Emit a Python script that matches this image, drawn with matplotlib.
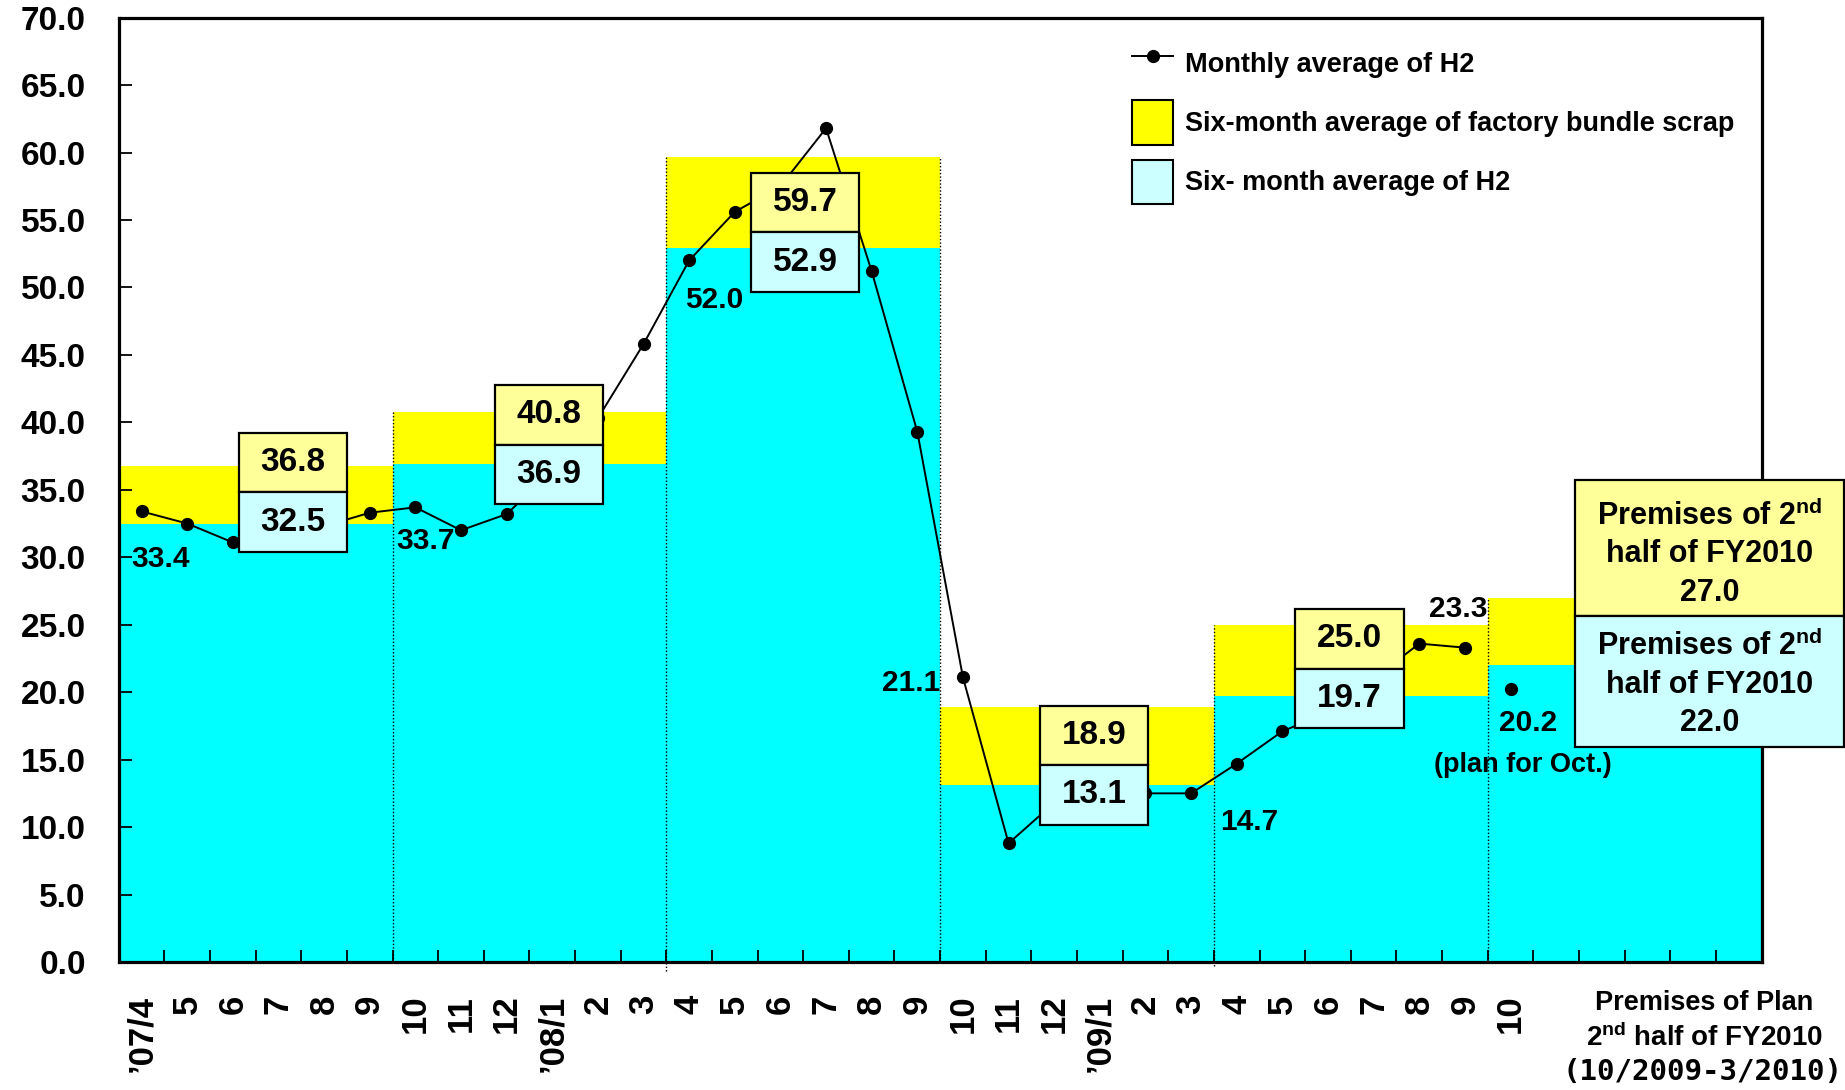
import matplotlib
matplotlib.use("Agg")
import matplotlib.pyplot as plt
from matplotlib.patches import Rectangle, Patch
from matplotlib.lines import Line2D
from matplotlib.ticker import FormatStrFormatter
import numpy as np

# ---------------- data ----------------
month_labels = ["\u201907/4", "5", "6", "7", "8", "9", "10", "11", "12",
                "\u201908/1", "2", "3", "4", "5", "6", "7", "8", "9",
                "10", "11", "12", "\u201909/1", "2", "3", "4", "5", "6",
                "7", "8", "9", "10", "", "", "", "", ""]
monthly_h2 = [33.4, 32.5, 31.1, 32.4, 32.3, 33.3, 33.7, 32.0, 33.2, 36.4,
              40.3, 45.8, 52.0, 55.6, 57.5, 61.8, 51.2, 39.3, 21.1, 8.8,
              11.8, 11.9, 12.5, 12.5, 14.7, 17.1, 18.5, 21.0, 23.6, 23.3]
plan_oct = 20.2
scrap_avg = [36.8, 40.8, 59.7, 18.9, 25.0, 27.0]
h2_avg = [32.5, 36.9, 52.9, 13.1, 19.7, 22.0]
labeled_months = [0, 6, 12, 18, 24, 29]
legend_labels = ["Monthly average of H2",
                 "Six-month average of factory bundle scrap",
                 "Six- month average of H2"]

# ---------------- style ----------------
W, H = 1845, 1090
SANS = ["Liberation Sans", "DejaVu Sans"]
plt.rcParams["font.family"] = SANS
plt.rcParams["font.weight"] = "bold"
plt.rcParams["mathtext.fontset"] = "custom"
plt.rcParams["mathtext.rm"] = "Liberation Sans:bold"
plt.rcParams["mathtext.it"] = "Liberation Sans:bold"
plt.rcParams["mathtext.bf"] = "Liberation Sans:bold"

YEL, CYA = "#FFFF00", "#00FFFF"
LYEL, LCYA = "#FFFF99", "#CCFFFF"

fig = plt.figure(figsize=(W / 100, H / 100), dpi=100)
ax = fig.add_axes([118.75 / W, 1 - 962 / H, (1761.5 - 118.75) / W, (962 - 17.6) / H])

# six-month bars (overlaid)
centers = [6 * k + 2.5 for k in range(len(scrap_avg))]
ax.bar(centers, scrap_avg, width=6, color=YEL, linewidth=0, zorder=1)
ax.bar(centers, h2_avg, width=6, color=CYA, linewidth=0, zorder=1.5)

# dotted separators between half-years
sep_bottoms = [0, -0.65, 0, -0.3, 0]
for k in range(len(scrap_avg) - 1):
    ax.vlines(6 * k + 5.5, sep_bottoms[k], max(scrap_avg[k], scrap_avg[k + 1]),
              colors="k", linestyles=(0, (1, 1.5)), linewidth=1.0, zorder=2,
              clip_on=False)

# monthly line
xm = np.arange(len(monthly_h2))
ax.plot(xm, monthly_h2, color="k", lw=1.4, marker="o", ms=8.5, zorder=3)
ax.plot([len(monthly_h2)], [plan_oct], linestyle="none", color="k",
        marker="o", ms=8.5, zorder=3)

# data labels
lab_fs = 21.5
label_pos = [(-0.22, 29.9, "left"), (5.58, 31.17, "left"), (11.9, 49.1, "left"),
             (17.5, 20.7, "right"), (23.63, 10.36, "left"), (28.22, 26.2, "left")]
for i, (lx, ly, ha) in zip(labeled_months, label_pos):
    ax.text(lx, ly, f"{monthly_h2[i]:.1f}", ha=ha, va="center",
            fontsize=lab_fs, fontweight="bold", zorder=6)
ax.text(29.75, 17.74, f"{plan_oct:.1f}", ha="left", va="center",
        fontsize=lab_fs, fontweight="bold", zorder=6)
ax.text(28.32, 14.6, "(plan for Oct.)", ha="left", va="center",
        fontsize=19.5, fontweight="bold", zorder=6)

# value boxes
box_left = [2.13, 7.74, 13.35, 19.68, 25.28]
box_bottom = [30.4, 33.92, 49.67, 10.17, 17.32]
bw, bh = 2.38, 4.42
for k in range(5):
    x0, y0 = box_left[k], box_bottom[k]
    ax.add_patch(Rectangle((x0, y0 + bh), bw, bh, fc=LYEL, ec="k", lw=1.6,
                           zorder=4, clip_on=False))
    ax.add_patch(Rectangle((x0, y0), bw, bh, fc=LCYA, ec="k", lw=1.6,
                           zorder=4, clip_on=False))
    ax.text(x0 + bw / 2, y0 + 1.5 * bh, f"{scrap_avg[k]:.1f}", ha="center",
            va="center", fontsize=24, fontweight="bold", zorder=5)
    ax.text(x0 + bw / 2, y0 + 0.5 * bh, f"{h2_avg[k]:.1f}", ha="center",
            va="center", fontsize=24, fontweight="bold", zorder=5)

# premises box (extends beyond the axes)
px0, pw = 31.42, 5.88
p_bot, p_mid, p_top = 15.9, 25.61, 35.74
ax.add_patch(Rectangle((px0, p_mid), pw, p_top - p_mid, fc=LYEL, ec="k",
                       lw=1.6, zorder=4, clip_on=False))
ax.add_patch(Rectangle((px0, p_bot), pw, p_mid - p_bot, fc=LCYA, ec="k",
                       lw=1.6, zorder=4, clip_on=False))
for val, yc in [(scrap_avg[5], (p_mid + p_top) / 2 - 0.45),
                (h2_avg[5], (p_bot + p_mid) / 2 - 0.2)]:
    lines = ["Premises of 2$^{\\mathrm{nd}}$", "half of FY2010", f"{val:.1f}"]
    for j, t in enumerate(lines):
        ax.text(px0 + pw / 2, yc + (1 - j) * 2.85, t, ha="center", va="center",
                fontsize=22, fontweight="bold", zorder=5, clip_on=False)

# axis formatting
ax.set_xlim(-0.5, 35.5)
ax.set_ylim(0, 70)
ax.set_yticks(np.arange(0, 70.1, 5))
ax.yaxis.set_major_formatter(FormatStrFormatter("%.1f"))
ax.set_xticks(np.arange(len(month_labels)))
ax.set_xticklabels(month_labels, rotation=90)
ax.set_xticks(np.arange(0.5, 35.5, 1), minor=True)
ax.tick_params(axis="x", which="major", length=0, pad=23.5, labelsize=25)
ax.tick_params(axis="x", which="minor", direction="in", length=8.6, width=1.3)
ax.tick_params(axis="y", direction="in", length=9.6, width=1.3, pad=23.8,
               labelsize=24)
for lab in ax.get_xticklabels() + ax.get_yticklabels():
    lab.set_fontweight("bold")
for sp in ax.spines.values():
    sp.set_linewidth(2.3)

# legend
handles = [Line2D([], [], color="k", lw=1.4, marker="o", ms=8.5),
           Patch(facecolor=YEL, edgecolor="k", linewidth=1.5),
           Patch(facecolor=LCYA, edgecolor="k", linewidth=1.5)]
leg = ax.legend(handles, legend_labels, loc="upper left",
                bbox_to_anchor=(1132 / W, 1 - 41 / H),
                bbox_transform=fig.transFigure, frameon=False,
                prop={"weight": "bold", "size": 19.5},
                handlelength=1.52, handleheight=2.15, handletextpad=0.42,
                labelspacing=0.55, borderpad=0, borderaxespad=0)
leg.set_zorder(6)

# bottom-right category caption
cap_lines = ["Premises of Plan", "2$^{\\mathrm{nd}}$ half of FY2010"]
cap_sizes = [19.5, 20]
for j, t in enumerate(cap_lines):
    fig.text(1704 / W, 1 - (1003 + 35 * j) / H, t, ha="center", va="center",
             fontsize=cap_sizes[j], fontweight="bold")
fig.text(1703 / W, 1 - 1072 / H, "(10/2009-3/2010)", ha="center", va="center",
         fontsize=21, fontweight="bold", family=["DejaVu Sans Mono"])

fig.savefig("out.png", dpi=100)
